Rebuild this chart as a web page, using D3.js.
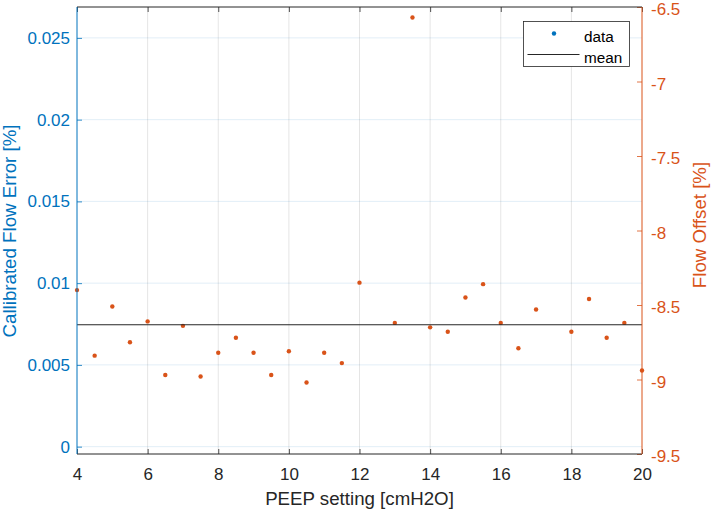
<!DOCTYPE html>
<html>
<head>
<meta charset="utf-8">
<script src="https://cdn.jsdelivr.net/npm/d3@7"></script>
<style>
  body { margin: 0; background: #fff; }
  text { font-family: "Liberation Sans", Arial, sans-serif; }
</style>
</head>
<body>
<div id="canvas"></div>
<script>
"use strict"

// PEEP settings (cmH2O) and flow offsets (%)
let peep = [4, 4.5, 5, 5.5, 6, 6.5, 7, 7.5, 8, 8.5, 9, 9.5, 10, 10.5, 11, 11.5, 12,
            13, 13.5, 14, 14.5, 15, 15.5, 16, 16.5, 17, 18, 18.5, 19, 19.5, 20];
let offset = [-8.40, -8.84, -8.51, -8.75, -8.61, -8.97, -8.64, -8.98, -8.82, -8.72, -8.82,
              -8.97, -8.81, -9.02, -8.82, -8.89, -8.35, -8.62, -6.57, -8.65, -8.68, -8.45,
              -8.36, -8.62, -8.79, -8.53, -8.68, -8.46, -8.72, -8.62, -8.94];

let xTicks = [4, 6, 8, 10, 12, 14, 16, 18, 20];
let leftTicks = [0, 0.005, 0.01, 0.015, 0.02, 0.025];
let leftTickLabels = ["0", "0.005", "0.01", "0.015", "0.02", "0.025"];
let rightTicks = [-9.5, -9, -8.5, -8, -7.5, -7, -6.5];
let rightTickLabels = ["-9.5", "-9", "-8.5", "-8", "-7.5", "-7", "-6.5"];

let drawingWidth = 712;
let drawingHeight = 512;

// plot box
let boxL = 77, boxR = 642, boxT = 7, boxB = 454;

let blue = "#0072BD";
let orange = "#D95319";
let dark = "#262626";

let drawing = d3.select("#canvas")
    .append("svg")
    .attr("width", drawingWidth)
    .attr("height", drawingHeight);

drawing.append("rect")
    .attr("width", drawingWidth)
    .attr("height", drawingHeight)
    .attr("fill", "white");

let x = d3.scaleLinear().domain([4, 20]).range([boxL, boxR]);
let yLeft = d3.scaleLinear().domain([-0.00045, 0.02689]).range([boxB, boxT]);
let yRight = d3.scaleLinear().domain([-9.5, -6.5]).range([boxB, boxT]);

// grid
drawing.append("g").selectAll("line")
    .data(xTicks.slice(1, -1))
    .join("line")
    .attr("x1", d => x(d)).attr("x2", d => x(d))
    .attr("y1", boxT).attr("y2", boxB)
    .attr("stroke", dark)
    .attr("stroke-opacity", 0.15)
    .attr("stroke-width", 0.8);

drawing.append("g").selectAll("line")
    .data(leftTicks)
    .join("line")
    .attr("x1", boxL).attr("x2", boxR)
    .attr("y1", d => yLeft(d)).attr("y2", d => yLeft(d))
    .attr("stroke", blue)
    .attr("stroke-opacity", 0.15)
    .attr("stroke-width", 0.8);

// data points
drawing.append("g").selectAll("circle")
    .data(peep)
    .join("circle")
    .attr("cx", d => x(d))
    .attr("cy", (d, i) => yRight(offset[i]))
    .attr("r", 2.2)
    .attr("fill", orange);

// mean line
let meanValue = d3.mean(offset);
drawing.append("line")
    .attr("x1", boxL).attr("x2", boxR)
    .attr("y1", yRight(meanValue)).attr("y2", yRight(meanValue))
    .attr("stroke", dark)
    .attr("stroke-width", 1.2);

// axes
function styleAxis(g, color) {
    g.selectAll(".domain").remove();
    g.selectAll(".tick line").attr("stroke", color).attr("stroke-width", 0.8);
    g.selectAll(".tick text")
        .attr("fill", color)
        .style("font-size", "17px")
        .style("font-family", "'Liberation Sans', Arial, sans-serif");
}

let xAxis = drawing.append("g")
    .attr("transform", `translate(0,${boxB})`)
    .call(d3.axisBottom(x).tickValues(xTicks).tickSize(-5).tickPadding(14).tickFormat(d => d));
styleAxis(xAxis, dark);

let xAxisTop = drawing.append("g")
    .attr("transform", `translate(0,${boxT})`)
    .call(d3.axisTop(x).tickValues(xTicks).tickSize(-5).tickFormat(""));
styleAxis(xAxisTop, dark);

let leftAxis = drawing.append("g")
    .attr("transform", `translate(${boxL},0)`)
    .call(d3.axisLeft(yLeft).tickValues(leftTicks).tickSize(-5).tickPadding(7)
        .tickFormat((d, i) => leftTickLabels[i]));
styleAxis(leftAxis, blue);

let rightAxis = drawing.append("g")
    .attr("transform", `translate(${boxR},0)`)
    .call(d3.axisRight(yRight).tickValues(rightTicks).tickSize(-5).tickPadding(9)
        .tickFormat((d, i) => rightTickLabels[i]));
styleAxis(rightAxis, orange);
rightAxis.selectAll(".tick text").attr("dy", "0.45em");

// box lines
drawing.append("line")
    .attr("x1", boxL).attr("x2", boxR).attr("y1", boxT).attr("y2", boxT)
    .attr("stroke", dark).attr("stroke-width", 1);
drawing.append("line")
    .attr("x1", boxL).attr("x2", boxR).attr("y1", boxB).attr("y2", boxB)
    .attr("stroke", dark).attr("stroke-width", 1);
drawing.append("line")
    .attr("x1", boxL).attr("x2", boxL).attr("y1", boxT).attr("y2", boxB)
    .attr("stroke", blue).attr("stroke-width", 1);
drawing.append("line")
    .attr("x1", boxR).attr("x2", boxR).attr("y1", boxT).attr("y2", boxB)
    .attr("stroke", orange).attr("stroke-width", 1);

// axis titles
drawing.append("text")
    .attr("x", (boxL + boxR) / 2)
    .attr("y", 505)
    .attr("text-anchor", "middle")
    .attr("fill", dark)
    .style("font-size", "18.7px")
    .text("PEEP setting [cmH2O]");

drawing.append("text")
    .attr("transform", "translate(16,231) rotate(-90)")
    .attr("text-anchor", "middle")
    .attr("fill", blue)
    .style("font-size", "18.7px")
    .text("Callibrated Flow Error [%]");

drawing.append("text")
    .attr("transform", "translate(706,225) rotate(-90)")
    .attr("text-anchor", "middle")
    .attr("fill", orange)
    .style("font-size", "18.7px")
    .text("Flow Offset [%]");

// legend
let legend = drawing.append("g");
legend.append("rect")
    .attr("x", 523.5).attr("y", 21.5)
    .attr("width", 106).attr("height", 45)
    .attr("fill", "white")
    .attr("stroke", dark)
    .attr("stroke-width", 0.8);
legend.append("circle")
    .attr("cx", 554).attr("cy", 33.5)
    .attr("r", 2.2)
    .attr("fill", blue);
legend.append("line")
    .attr("x1", 527.5).attr("x2", 579.5)
    .attr("y1", 54.5).attr("y2", 54.5)
    .attr("stroke", dark)
    .attr("stroke-width", 1);
legend.append("text")
    .attr("x", 584).attr("y", 41.5)
    .attr("fill", "#000")
    .style("font-size", "15.3px")
    .text("data");
legend.append("text")
    .attr("x", 584).attr("y", 62.5)
    .attr("fill", "#000")
    .style("font-size", "15.3px")
    .text("mean");
</script>
</body>
</html>
